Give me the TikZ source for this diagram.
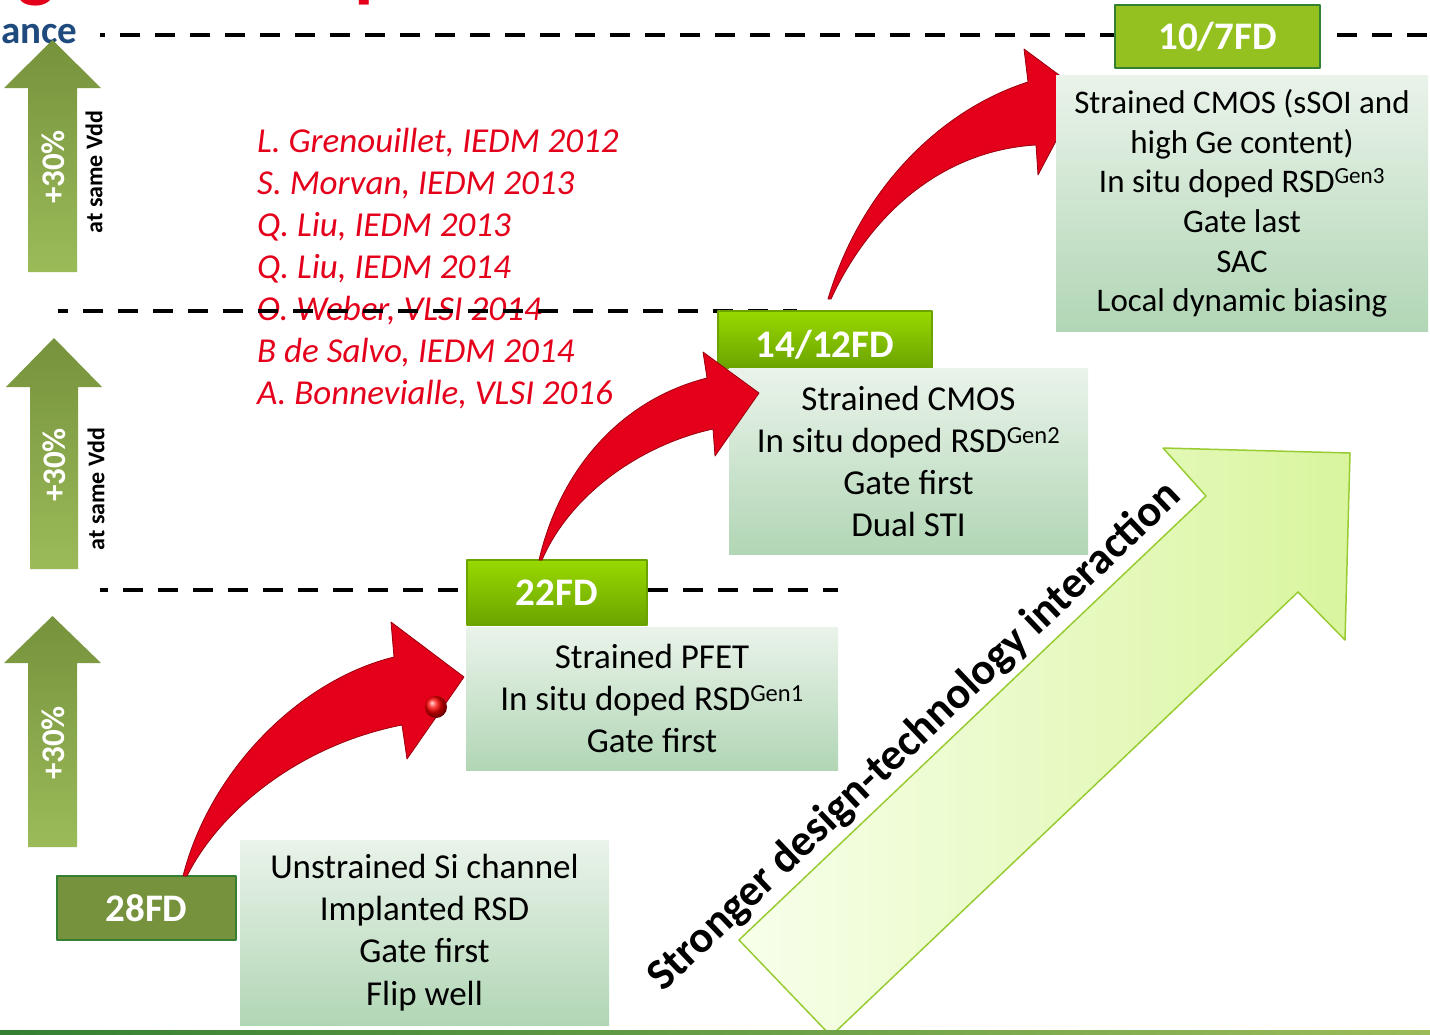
\documentclass[tikz,border=0pt]{standalone}
\usepackage{fontspec}
\setmainfont{Carlito}
\usepackage{pgf,tikz}
\usetikzlibrary{arrows}
\definecolor{eeqqbb}{rgb}{0.894,0.0,0.106}
\definecolor{ttqqqq}{rgb}{0.6,0.0,0.05}
\definecolor{ttccww}{rgb}{0.463,0.573,0.235}
\definecolor{wwccxx}{rgb}{0.608,0.733,0.349}
\definecolor{eeffee}{rgb}{0.918,0.953,0.918}
\definecolor{bbddbb}{rgb}{0.694,0.839,0.71}
\definecolor{ccffqq}{rgb}{0.6,0.85,0.0}
\definecolor{ttccqq}{rgb}{0.42,0.64,0.0}
\definecolor{wwccdd}{rgb}{0.58,0.757,0.125}
\definecolor{zzttzz}{rgb}{0.2,0.5,0.2}
\definecolor{ffffee}{rgb}{0.97,1.0,0.92}
\definecolor{ddffaa}{rgb}{0.85,0.96,0.62}
\definecolor{wwccqq}{rgb}{0.6,0.8,0.2}
\definecolor{qqttcc}{rgb}{0.12,0.29,0.49}

\begin{document}
\begin{tikzpicture}[line cap=round,line join=round,>=triangle 45,x=1pt,y=-1pt,
  level/.style={line width=4.5pt,line cap=butt,dash pattern=on 20pt off 15pt},
  fdbox/.style={rectangle,inner sep=0pt,draw=zzttzz,line width=1.2pt,text=white,font=\bfseries\fontsize{39}{46}\selectfont},
  limebox/.style={fdbox,draw=ttccqq,top color=ccffqq,bottom color=ttccqq},
  descbox/.style={rectangle,inner sep=0pt,top color=eeffee,bottom color=bbddbb,align=center,font=\fontsize{35}{42}\selectfont},
  uparrow/.style={top color=ttccww,bottom color=wwccxx},
  gaintext/.style={rotate=90,text=white,font=\bfseries\fontsize{33}{40}\selectfont},
  vddtext/.style={rotate=90,font=\bfseries\fontsize{24}{28}\selectfont},
  redarrow/.style={fill=eeqqbb,draw=ttqqqq,line width=0.8pt}]
\useasboundingbox (0,0) rectangle (1430,1034);
\clip(0,0) rectangle (1430,1034);
\node[anchor=base,inner sep=0pt,text=eeqqbb,font=\bfseries\fontsize{80}{90}\selectfont] (tg) at (36,-8) {g};
\node[anchor=base,inner sep=0pt,text=eeqqbb,font=\bfseries\fontsize{80}{90}\selectfont] (tp) at (376,-8) {p};
\node[anchor=base west,inner sep=0pt,text=qqttcc,font=\bfseries\fontsize{39}{45}\selectfont] (ance) at (1,43) {ance};
\node[anchor=west,inner sep=0pt,align=left,text=eeqqbb,font=\itshape\fontsize{35}{42}\selectfont] (refs) at (257,269) {L. Grenouillet, IEDM 2012\\S. Morvan, IEDM 2013\\Q. Liu, IEDM 2013\\Q. Liu, IEDM 2014\\O. Weber, VLSI 2014\\B de Salvo, IEDM 2014\\A. Bonnevialle, VLSI 2016};
\draw[level,dash phase=15pt] (100,35)-- (1115,35);
\draw[level] (1337,35)-- (1430,35);
\draw[level,dash phase=10pt] (58,311)-- (797,311);
\draw[level,dash phase=12pt] (100,590)-- (838,590);
\shade[uparrow] (52.5,40) -- (101,88) -- (77,88) -- (77,272) -- (28,272) -- (28,88) -- (4,88) -- cycle;
\shade[uparrow] (54,338) -- (102,387) -- (78,387) -- (78,569) -- (30,569) -- (30,387) -- (6,387) -- cycle;
\shade[uparrow] (52.5,616) -- (101,663) -- (77,663) -- (77,847) -- (28,847) -- (28,663) -- (4,663) -- cycle;
\node[gaintext] (g1) at (53,167) {+30\%};
\node[gaintext] (g2) at (54,465) {+30\%};
\node[gaintext] (g3) at (53,743) {+30\%};
\node[vddtext] (v1) at (94,172) {at same Vdd};
\node[vddtext] (v2) at (96,489) {at same Vdd};
\shade[left color=ffffee,right color=ddffaa,draw=wwccqq,line width=1.5pt] (739,940) -- (1206,496) -- (1163,448) -- (1350,453) -- (1345,640) -- (1298,592) -- (831,1036) -- cycle;
\node[rotate=43.56,font=\bfseries\fontsize{44.5}{50}\selectfont] (dti) at (915,737) {Stronger design-technology interaction};
\draw[redarrow] (828,299) .. controls (860,190) and (940,110) .. (1028,82) -- (1024,49) -- (1082,92) -- (1038,175) -- (1036,145) .. controls (950,150) and (875,205) .. (831,299) -- cycle;
\node[fdbox,fill=ttccww,minimum width=179pt,minimum height=64pt] (n28) at (146.5,908) {28FD};
\node[limebox,minimum width=180pt,minimum height=65pt] (n22) at (557,592.5) {22FD};
\node[limebox,minimum width=214pt,minimum height=57pt,text height=36pt,text depth=0pt] (n14) at (825,339.5) {14/12FD};
\node[fdbox,fill=wwccdd,minimum width=205pt,minimum height=63pt] (n10) at (1217.5,36.5) {10/7FD};
\node[descbox,minimum width=369pt,minimum height=185pt,font=\fontsize{35}{42.3}\selectfont] (d28) at (424.5,932.5) {Unstrained Si channel\\Implanted RSD\\Gate first\\Flip well};
\node[descbox,minimum width=372pt,minimum height=143pt] (d22) at (652,698.5) {Strained PFET\\In situ doped RSD\textsuperscript{Gen1}\\Gate first};
\node[descbox,minimum width=359pt,minimum height=186pt] (d14) at (908.5,461.5) {Strained CMOS\\In situ doped RSD\textsuperscript{Gen2}\\Gate first\\Dual STI};
\node[descbox,minimum width=372pt,minimum height=256pt,font=\fontsize{33}{39.6}\selectfont] (d10) at (1242,203.5) {Strained CMOS (sSOI and\\high Ge content)\\In situ doped RSD\textsuperscript{Gen3}\\Gate last\\SAC\\Local dynamic biasing};
\draw[redarrow] (183,876) .. controls (210,770) and (300,680) .. (394,657) -- (391,622) -- (464,677) -- (407,759) -- (402,725) .. controls (300,745) and (220,810) .. (187,876) -- cycle;
\draw[redarrow] (539,560) .. controls (560,470) and (620,400) .. (707,378) -- (703,352) -- (759,393) -- (715,456) -- (713,429) .. controls (640,445) and (570,495) .. (542,560) -- cycle;
\shade[ball color=red] (436,707) circle (11);
\shade[left color=zzttzz,right color=wwccxx] (0,1030) rectangle (1430,1034);
\end{tikzpicture}
\end{document}
